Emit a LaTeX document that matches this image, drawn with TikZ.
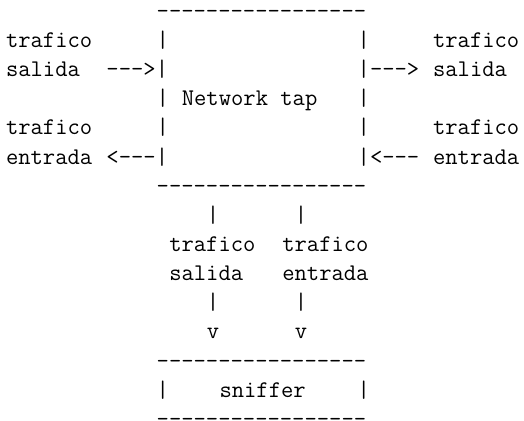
\documentclass[tikz,border=0pt]{standalone}
\usepackage{tikz}
\tikzset{
  tt/.style={anchor=base west, inner sep=0pt, outer sep=0pt,
    font=\fontsize{11.96}{14}\selectfont\ttfamily}
}
\begin{document}
\begin{tikzpicture}[x=6.28pt,y=-14.575pt]
\useasboundingbox (-0.4777,-0.6278) rectangle (41.2423,13.8147);
% network tap box
\node[tt] (tapTop) at (12,0) {-----------------};
\node[tt] (lT1) at (0,1) {trafico};
\node[tt] (tapL1) at (12,1) {|};
\node[tt] (tapR1) at (28,1) {|};
\node[tt] (rT1) at (34,1) {trafico};
\node[tt] (lS) at (0,2) {salida};
\node[tt] (arrInL) at (8,2) {-{}-{}->|};
\node[tt] (arrOutR) at (28,2) {|-{}-{}->};
\node[tt] (rS) at (34,2) {salida};
\node[tt] (tapL3) at (12,3) {|};
\node[tt] (tap) at (14,3) {Network tap};
\node[tt] (tapR3) at (28,3) {|};
\node[tt] (lT2) at (0,4) {trafico};
\node[tt] (tapL4) at (12,4) {|};
\node[tt] (tapR4) at (28,4) {|};
\node[tt] (rT2) at (34,4) {trafico};
\node[tt] (lE) at (0,5) {entrada};
\node[tt] (arrOutL) at (8,5) {<-{}-{}-|};
\node[tt] (arrInR) at (28,5) {|<-{}-{}-};
\node[tt] (rE) at (34,5) {entrada};
\node[tt] (tapBot) at (12,6) {-----------------};
% down links
\node[tt] (d1a) at (16,7) {|};
\node[tt] (d2a) at (23,7) {|};
\node[tt] (dT1) at (13,8) {trafico};
\node[tt] (dT2) at (22,8) {trafico};
\node[tt] (dS) at (13,9) {salida};
\node[tt] (dE) at (22,9) {entrada};
\node[tt] (d1b) at (16,10) {|};
\node[tt] (d2b) at (23,10) {|};
\node[tt] (v1) at (16,11) {v};
\node[tt] (v2) at (23,11) {v};
% sniffer box
\node[tt] (snTop) at (12,12) {-----------------};
\node[tt] (snL) at (12,13) {|};
\node[tt] (sn) at (17,13) {sniffer};
\node[tt] (snR) at (28,13) {|};
\node[tt] (snBot) at (12,14) {-----------------};
\end{tikzpicture}
\end{document}
